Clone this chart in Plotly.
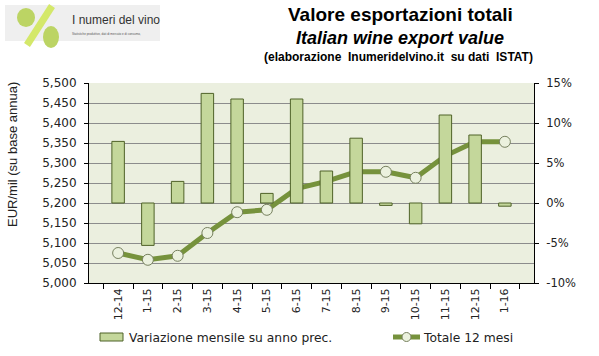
import plotly.graph_objects as go

categories = ["12-14", "1-15", "2-15", "3-15", "4-15", "5-15", "6-15", "7-15",
              "8-15", "9-15", "10-15", "11-15", "12-15", "1-16"]
monthly_change_pct = [7.7, -5.3, 2.7, 13.7, 13.0, 1.2, 13.0, 4.0,
                      8.1, -0.3, -2.6, 11.0, 8.5, -0.4]
total_12m = [5075, 5058, 5068, 5125, 5177, 5183, 5236, 5254,
             5278, 5278, 5263, 5318, 5353, 5353]
left_ticks = list(range(5000, 5501, 50))
right_ticks = [-10, -5, 0, 5, 10, 15]
bar_name = "Variazione mensile su anno prec."
line_name = "Totale 12 mesi"

L, R, T, B = 89, 534, 83, 283
W, H = 599, 356
def px(x):
    return (x - L) / (R - L)
def py(y):
    return (B - y) / (B - T)

FONT = "DejaVu Sans"
BAR_FILL, BAR_EDGE = "#C4D79B", "#4F6228"
LINE_C = "#76923C"
MK_FILL, MK_EDGE = "#EBF1DE", "#77815F"

fig = go.Figure()
fig.add_trace(go.Bar(
    x=categories, y=monthly_change_pct, yaxis="y2", name=bar_name,
    marker=dict(color=BAR_FILL, line=dict(color=BAR_EDGE, width=1)),
    width=0.42, showlegend=False,
))
fig.add_trace(go.Scatter(
    x=categories, y=total_12m, yaxis="y", mode="lines+markers", name=line_name,
    line=dict(color=LINE_C, width=5),
    marker=dict(size=11, color=MK_FILL, line=dict(color=MK_EDGE, width=1)),
    showlegend=False,
))

fig.update_layout(
    width=W, height=H,
    margin=dict(l=L, r=W - R, t=T, b=H - B, autoexpand=False),
    paper_bgcolor="white",
    plot_bgcolor="#EBEFDF",
    showlegend=False,
    font=dict(family=FONT, size=11, color="#222"),
    xaxis=dict(
        type="category", tickangle=-90, ticks="outside", tickson="boundaries",
        ticklen=5, tickcolor="#000", showline=True, linecolor="#000",
        showgrid=False, tickfont=dict(size=11, family=FONT), automargin=False,
    ),
    yaxis=dict(
        range=[5000, 5500], tickvals=left_ticks,
        ticktext=[f"{v:,}" for v in left_ticks],
        ticks="outside", ticklen=4, tickcolor="#000", showline=True,
        linecolor="#000", gridcolor="#8C8C8C", gridwidth=1,
        zeroline=False, automargin=False, tickfont=dict(size=12, family=FONT),
        ticklabelstandoff=5,
    ),
    yaxis2=dict(
        range=[-10, 15], tickvals=right_ticks,
        ticktext=[f"{v}%" for v in right_ticks],
        overlaying="y", side="right", ticks="outside", ticklen=4,
        tickcolor="#000", showline=True, linecolor="#000",
        showgrid=False, zeroline=False, automargin=False,
        tickfont=dict(size=11.5, family=FONT), ticklabelstandoff=5,
    ),
)

# Y-axis title
fig.add_annotation(xref="paper", yref="paper", x=px(12), y=py(155),
                   text="EUR/mil (su base annua)", textangle=-90, showarrow=False,
                   xanchor="center", yanchor="middle",
                   font=dict(size=13, family="Liberation Sans", color="#222"))

# Manual legend
fig.add_shape(type="rect", xref="paper", yref="paper",
              x0=px(100), x1=px(123), y0=py(341), y1=py(333),
              fillcolor=BAR_FILL, line=dict(color=BAR_EDGE, width=1))
fig.add_annotation(xref="paper", yref="paper", x=px(127), y=py(338),
                   text=bar_name, showarrow=False, xanchor="left", yanchor="middle",
                   font=dict(size=12.3, family=FONT, color="#222"))
fig.add_shape(type="line", xref="paper", yref="paper",
              x0=px(393), x1=px(420), y0=py(337), y1=py(337),
              line=dict(color=LINE_C, width=5))
fig.add_shape(type="circle", xref="paper", yref="paper",
              x0=px(402), x1=px(411), y0=py(341.5), y1=py(332.5),
              fillcolor=MK_FILL, line=dict(color=MK_EDGE, width=1))
fig.add_annotation(xref="paper", yref="paper", x=px(421), y=py(338),
                   text=line_name, showarrow=False, xanchor="left", yanchor="middle",
                   font=dict(size=12.3, family=FONT, color="#222"))

# Logo block
fig.add_shape(type="rect", xref="paper", yref="paper",
              x0=px(5), x1=px(160), y0=py(41), y1=py(5),
              fillcolor="#EFEFEF", line=dict(width=0), layer="below")
fig.add_shape(type="line", xref="paper", yref="paper",
              x0=px(27), y0=py(45), x1=px(52), y1=py(6),
              line=dict(color="#D4E86A", width=7))
fig.add_shape(type="circle", xref="paper", yref="paper",
              x0=px(17), x1=px(35), y0=py(27), y1=py(8),
              fillcolor="#BCD464", line=dict(width=0))
fig.add_shape(type="circle", xref="paper", yref="paper",
              x0=px(43), x1=px(59), y0=py(48), y1=py(26),
              fillcolor="#BCD464", line=dict(width=0))
fig.add_annotation(xref="paper", yref="paper", x=px(71), y=py(20),
                   text="I numeri del vino", showarrow=False, xanchor="left",
                   yanchor="middle", borderpad=0,
                   font=dict(size=12, family="Liberation Sans", color="#333"))
fig.add_annotation(xref="paper", yref="paper", x=px(71), y=py(34),
                   text="Statistiche produttive, dati di mercato e di consumo,",
                   showarrow=False, xanchor="left", yanchor="middle", borderpad=0,
                   font=dict(size=3, family="Liberation Sans", color="#555"))

# Titles
fig.add_annotation(xref="paper", yref="paper", x=px(400), y=py(15),
                   text="<b>Valore esportazioni totali</b>", showarrow=False,
                   xanchor="center", yanchor="middle",
                   font=dict(size=19, family="Liberation Sans", color="#000"))
fig.add_annotation(xref="paper", yref="paper", x=px(400), y=py(38),
                   text="<b><i>Italian wine export value</i></b>", showarrow=False,
                   xanchor="center", yanchor="middle",
                   font=dict(size=18, family="Liberation Sans", color="#000"))
fig.add_annotation(xref="paper", yref="paper", x=px(398), y=py(57),
                   text="<b>(elaborazione  Inumeridelvino.it  su dati  ISTAT)</b>",
                   showarrow=False, xanchor="center", yanchor="middle",
                   font=dict(size=12, family="Liberation Sans", color="#000"))

fig.write_html("out.html", config={"displayModeBar": False},
               post_script="document.body.style.margin='0';")
